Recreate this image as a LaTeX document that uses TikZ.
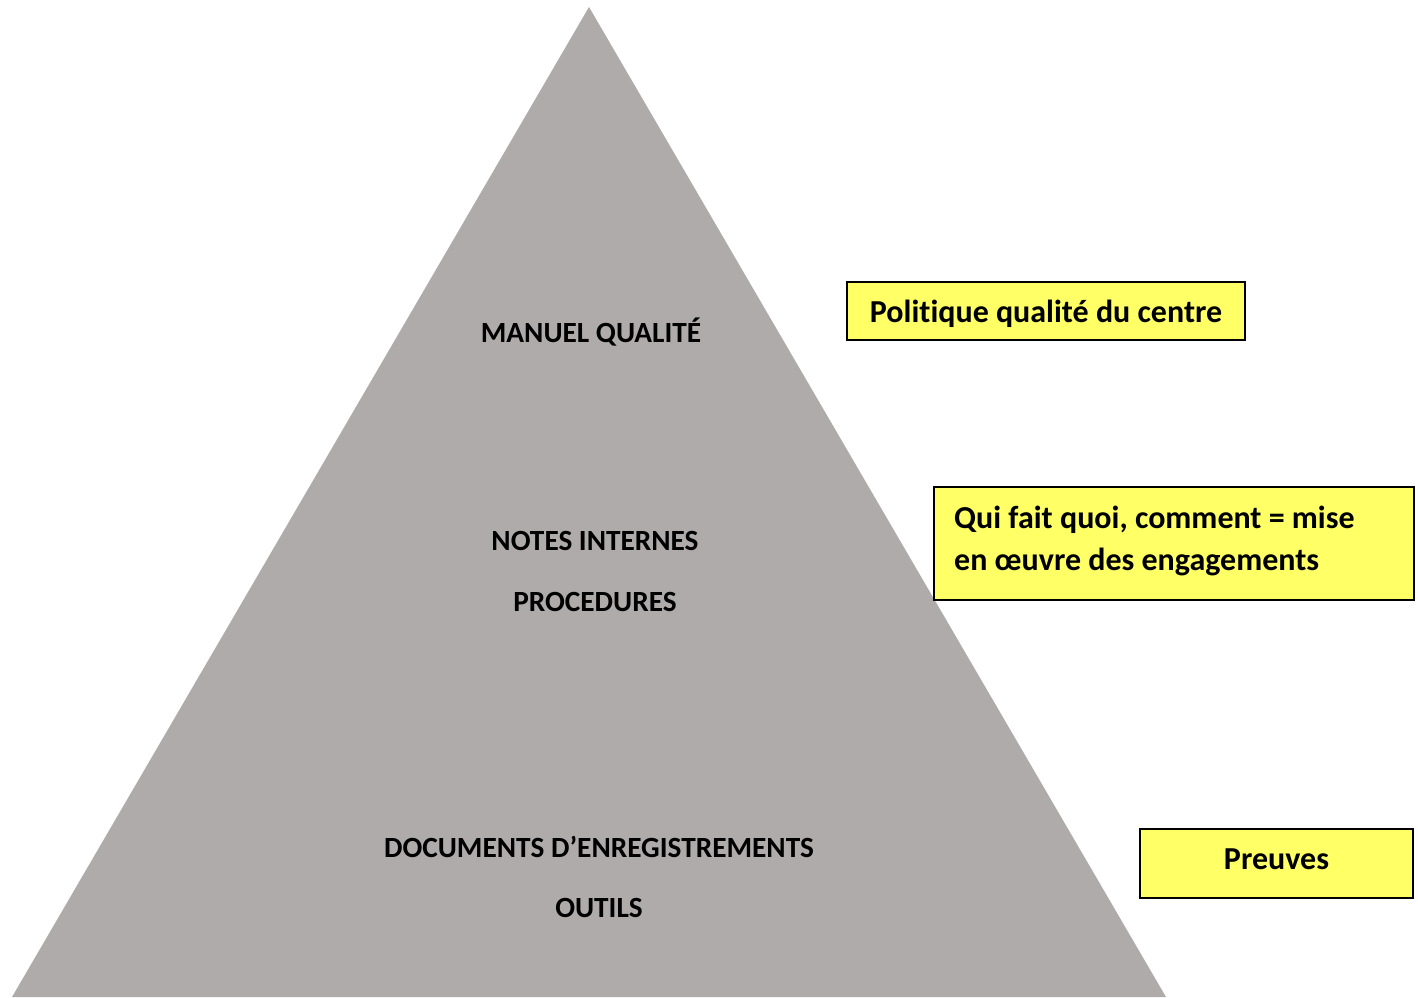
\documentclass[tikz,border=0pt]{standalone}
\usepackage{fontspec}
\setmainfont{Carlito}[RawFeature={-liga}]
\definecolor{pyramidgray}{HTML}{AFABAA}
\definecolor{noteyellow}{HTML}{FFFF66}

\begin{document}
\begin{tikzpicture}[x=1pt,y=-1pt,
  level/.style={anchor=base,font=\fontsize{29.3}{34}\selectfont\bfseries},
  note/.style={draw=black,line width=1.6pt,fill=noteyellow,inner sep=0pt,
    font=\fontsize{32}{37}\selectfont\bfseries}]
\useasboundingbox (0,0) rectangle (1418,997);
\coordinate (top)   at (589,7);
\coordinate (left)  at (12,997);
\coordinate (right) at (1166,997);
\fill [pyramidgray] (top) -- (left) -- (right) -- cycle;
\node   (manuel) at (591,342) [level] {MANUEL QUALITÉ};
\node    (notes) at (595,550) [level] {NOTES INTERNES};
\node    (proc)  at (595,611) [level] {PROCEDURES};
\node     (docs) at (599,857) [level] {DOCUMENTS D’ENREGISTREMENTS};
\node   (outils) at (599,917) [level] {OUTILS};
\node (politique) at (1046,311) [note,minimum width=398,minimum height=58,text height=22,text depth=0] {Politique qualité du centre};
\node      (qui) at (1174,543.5) [note,minimum width=480,minimum height=113] {};
\node   (quitxt) at (954,570) [anchor=base west,align=left,font=\fontsize{32}{42}\selectfont\bfseries,inner sep=0pt]
  {Qui fait quoi, comment = mise\\en œuvre des engagements};
\node  (preuves) at (1276.5,863.5) [note,minimum width=273,minimum height=69,text height=11,text depth=0] {Preuves};
\end{tikzpicture}
\end{document}
